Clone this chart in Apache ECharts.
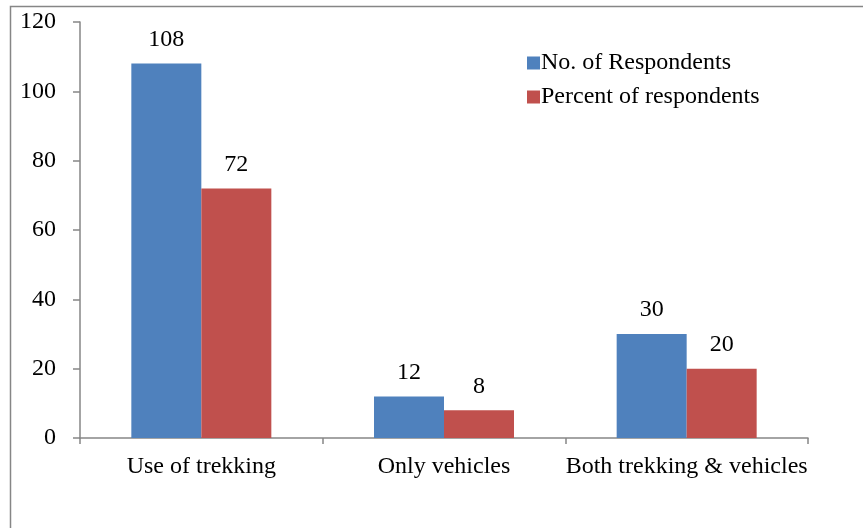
<!DOCTYPE html>
<html>
<head>
<meta charset="utf-8">
<script src="https://cdn.jsdelivr.net/npm/echarts@6/dist/echarts.min.js"></script>
<style>
  html, body { margin: 0; padding: 0; background: #fff; }
  #main { width: 863px; height: 528px; }
</style>
</head>
<body>
<div id="main"></div>
<script>
  var categories = ['Use of trekking', 'Only vehicles', 'Both trekking & vehicles']
  var respondents = [108, 12, 30]
  var percents = [72, 8, 20]
  var yTicks = [0, 20, 40, 60, 80, 100, 120]

  var font = 'Liberation Serif, Times New Roman, serif'
  var axisColor = '#868686'
  var myChart = echarts.init(document.getElementById('main'))
  var labelStyle = {
    show: true,
    position: 'top',
    distance: 12,
    color: '#000',
    fontFamily: font,
    fontSize: 24
  }
  var option = {
    animation: false,
    textStyle: { fontFamily: font },
    grid: { left: 80, right: 55, top: 22, bottom: 90, containLabel: false },
    legend: {
      orient: 'vertical',
      left: 522,
      top: 46,
      itemWidth: 13,
      itemHeight: 13,
      itemGap: 10,
      icon: 'rect',
      textStyle: { fontFamily: font, fontSize: 24, color: '#000', padding: [0, 0, 0, -4] }
    },
    xAxis: {
      type: 'category',
      data: categories,
      axisLine: { lineStyle: { color: axisColor, width: 1.5 } },
      axisTick: { show: true, length: 6, alignWithLabel: false, lineStyle: { color: axisColor, width: 1.5 } },
      axisLabel: { interval: 0, color: '#000', fontFamily: font, fontSize: 24, margin: 17 }
    },
    yAxis: {
      type: 'value',
      min: yTicks[0],
      max: yTicks[yTicks.length - 1],
      interval: 20,
      axisLine: { show: true, lineStyle: { color: axisColor, width: 1.5 } },
      axisTick: { show: true, length: 7, lineStyle: { color: axisColor, width: 1.5 } },
      splitLine: { show: false },
      axisLabel: { color: '#000', fontFamily: font, fontSize: 24, margin: 24 }
    },
    series: [
      {
        name: 'No. of Respondents',
        type: 'bar',
        data: respondents,
        barWidth: 70,
        barGap: '0%',
        itemStyle: { color: '#4f81bd' },
        label: labelStyle
      },
      {
        name: 'Percent of respondents',
        type: 'bar',
        data: percents,
        barWidth: 70,
        itemStyle: { color: '#c0504d' },
        label: labelStyle
      }
    ],
    graphic: [
      {
        type: 'rect',
        left: 8,
        top: 4,
        shape: { width: 900, height: 600 },
        style: { fill: 'none', stroke: axisColor, lineWidth: 1.5 },
        silent: true
      }
    ]
  }
  myChart.setOption(option)
</script>
</body>
</html>
